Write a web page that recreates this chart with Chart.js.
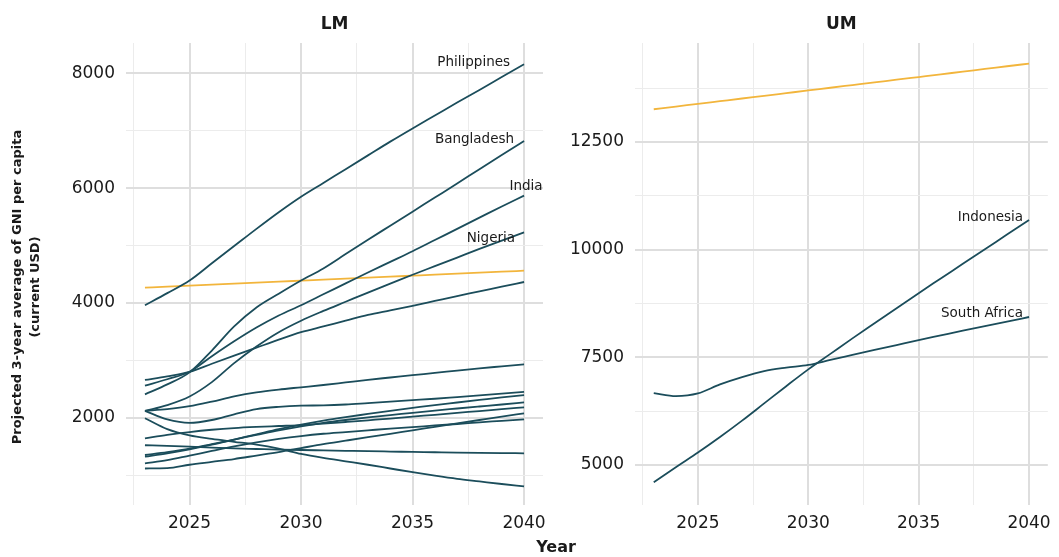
<!DOCTYPE html>
<html>
<head>
<meta charset="utf-8">
<script src="https://cdn.jsdelivr.net/npm/chart.js@4.4.1/dist/chart.umd.min.js"></script>
<style>
  body { margin: 0; background: #fff; }
  #wrap { position: relative; width: 1059px; height: 557px; }
  #lm { position: absolute; left: 0; top: 0; }
  #um { position: absolute; left: 555px; top: 0; }
  #xtitle { position: absolute; left: 506px; width: 100px; top: 537px; text-align: center;
            font: bold 16px 'DejaVu Sans', sans-serif; color: #1a1a1a; }
</style>
</head>
<body>
<div id="wrap">
  <canvas id="lm" width="555" height="557"></canvas>
  <canvas id="um" width="504" height="557"></canvas>
  <div id="xtitle">Year</div>
</div>
<script>
// Data
const years = [2023, 2024, 2025, 2026, 2027, 2028, 2029, 2030, 2031, 2032, 2033, 2034, 2035, 2036, 2037, 2038, 2039, 2040];
const xGridYears = [2022.5, 2025, 2027.5, 2030, 2032.5, 2035, 2037.5, 2040];
const lmTicks = [1000, 2000, 3000, 4000, 5000, 6000, 7000, 8000];
const umTicks = [5000, 6250, 7500, 8750, 10000, 11250, 12500, 13750];

// LM panel
const lmThreshold = [4265, 4282, 4300, 4317, 4335, 4352, 4370, 4387, 4404, 4422, 4439, 4457, 4474, 4491, 4509, 4526, 4544, 4561];
const philippines = [3960, 4170, 4390, 4690, 4990, 5290, 5580, 5850, 6090, 6330, 6570, 6810, 7040, 7265, 7490, 7710, 7935, 8157];
const bangladesh = [2407, 2580, 2790, 3170, 3590, 3920, 4160, 4390, 4600, 4850, 5100, 5345, 5590, 5835, 6080, 6330, 6575, 6820];
const india = [2558, 2670, 2800, 3070, 3330, 3570, 3780, 3960, 4150, 4340, 4530, 4715, 4900, 5095, 5290, 5485, 5680, 5868];
const nigeria = [2117, 2220, 2370, 2620, 2950, 3240, 3490, 3690, 3860, 4020, 4180, 4335, 4490, 4640, 4790, 4940, 5085, 5230];
const lmOther1 = [2657, 2720, 2800, 2940, 3080, 3220, 3360, 3490, 3590, 3690, 3790, 3870, 3950, 4035, 4120, 4200, 4285, 4364];
const lmOther2 = [2120, 2150, 2200, 2280, 2370, 2440, 2490, 2530, 2570, 2615, 2660, 2700, 2740, 2780, 2820, 2860, 2895, 2930];
const lmOther3 = [2120, 1970, 1910, 1960, 2060, 2150, 2190, 2210, 2215, 2230, 2255, 2280, 2305, 2330, 2360, 2390, 2420, 2450];
const lmOther4 = [1990, 1800, 1690, 1630, 1580, 1530, 1460, 1370, 1300, 1240, 1180, 1115, 1050, 990, 935, 890, 845, 805];
const lmOther5 = [1520, 1510, 1495, 1480, 1465, 1455, 1445, 1437, 1430, 1423, 1416, 1410, 1404, 1398, 1392, 1387, 1383, 1380];
const lmOther6 = [1640, 1700, 1750, 1790, 1820, 1840, 1855, 1870, 1895, 1925, 1955, 1985, 2020, 2050, 2085, 2115, 2150, 2181];
const lmOther7 = [1115, 1120, 1180, 1230, 1280, 1340, 1400, 1470, 1540, 1600, 1660, 1720, 1780, 1840, 1900, 1960, 2020, 2077];
const lmOther8 = [1350, 1400, 1460, 1540, 1620, 1700, 1780, 1850, 1910, 1960, 2005, 2045, 2085, 2125, 2160, 2195, 2230, 2268];
const lmOther9 = [1321, 1380, 1450, 1530, 1620, 1710, 1800, 1880, 1950, 2010, 2065, 2120, 2170, 2220, 2265, 2310, 2355, 2395];
const lmOther10 = [1205, 1260, 1340, 1420, 1500, 1570, 1630, 1680, 1720, 1750, 1780, 1810, 1835, 1865, 1890, 1920, 1945, 1972];

// UM panel
const umThreshold = [13260, 13322, 13385, 13447, 13509, 13572, 13634, 13696, 13759, 13821, 13883, 13946, 14008, 14070, 14133, 14195, 14258, 14320];
const indonesia = [4600, 4950, 5290, 5650, 6030, 6430, 6830, 7220, 7580, 7940, 8290, 8640, 8990, 9330, 9670, 10010, 10350, 10690];
const southAfrica = [6670, 6600, 6660, 6870, 7040, 7180, 7260, 7322, 7440, 7555, 7670, 7785, 7900, 8010, 8120, 8225, 8330, 8436];

const TEAL = '#1b4d5b';
const GOLD = '#f2b53c';
const FONT = "'DejaVu Sans', sans-serif";

// where each line label sits relative to the line's last point
const labelOffsets = {
    'Philippines': { dx: -14, dy: -2, align: 'right' },
    'Bangladesh': { dx: -10, dy: -2, align: 'right' },
    'India': { dx: 2, dy: -9, align: 'center' },
    'Nigeria': { dx: -9, dy: 6, align: 'right' },
    'Indonesia': { dx: -6, dy: -2, align: 'right' },
    'South Africa': { dx: -6, dy: -4, align: 'right' }
};

function series(label, values, color) {
    return {
        label,
        data: years.map((y, i) => ({ x: y, y: values[i] })),
        borderColor: color,
        borderWidth: 1.8,
        pointRadius: 0,
        cubicInterpolationMode: 'monotone',
        fill: false,
        order: color === GOLD ? 1 : 0
    };
}

const annotate = {
    id: 'annotate',
    afterDatasetsDraw(chart, args, opts) {
        const { ctx, chartArea, scales } = chart;
        ctx.save();
        ctx.fillStyle = '#1a1a1a';
        ctx.textBaseline = 'middle';
        ctx.textAlign = 'center';
        ctx.font = 'bold 17px ' + FONT;
        ctx.fillText(opts.panel, (chartArea.left + chartArea.right) / 2, 25);
        ctx.font = '13.5px ' + FONT;
        chart.data.datasets.forEach(ds => {
            const off = labelOffsets[ds.label];
            if (!off) return;
            const last = ds.data[ds.data.length - 1];
            const px = scales.x.getPixelForValue(last.x);
            const py = scales.y.getPixelForValue(last.y);
            ctx.textAlign = off.align;
            ctx.fillText(ds.label, px + off.dx, py + off.dy);
        });
        if (opts.yTitle) {
            ctx.translate(0, 287);
            ctx.rotate(-Math.PI / 2);
            ctx.textAlign = 'center';
            ctx.font = 'bold 13px ' + FONT;
            ctx.fillText(opts.yTitle[0], 0, 18);
            ctx.fillText(opts.yTitle[1], 0, 36);
        }
        ctx.restore();
    }
};

function gridStyle(isMajor) {
    return {
        drawTicks: false,
        color: ctx => (ctx.tick && isMajor(ctx.tick.value)) ? '#dedede' : '#ececec',
        lineWidth: ctx => (ctx.tick && isMajor(ctx.tick.value)) ? 2 : 1
    };
}

function makeChart(id, datasets, yMin, yMax, yTicks, yMajor, yAxisWidth, padRight, panel, yTitle) {
    return new Chart(document.getElementById(id), {
        type: 'line',
        data: { datasets },
        options: {
            responsive: false,
            animation: false,
            events: [],
            layout: { padding: { top: 43, right: padRight, bottom: 0, left: 0 } },
            plugins: {
                legend: { display: false },
                tooltip: { enabled: false },
                annotate: { panel, yTitle }
            },
            scales: {
                x: {
                    type: 'linear',
                    min: 2022.15,
                    max: 2040.85,
                    afterBuildTicks: s => { s.ticks = xGridYears.map(v => ({ value: v })); },
                    afterFit: s => { s.height = 52; },
                    border: { display: false },
                    grid: gridStyle(v => v % 5 === 0),
                    ticks: {
                        autoSkip: false,
                        maxRotation: 0,
                        padding: 8,
                        color: '#1a1a1a',
                        font: { family: FONT, size: 17 },
                        callback: v => (v % 5 === 0 ? String(v) : '')
                    }
                },
                y: {
                    min: yMin,
                    max: yMax,
                    afterBuildTicks: s => { s.ticks = yTicks.map(v => ({ value: v })); },
                    afterFit: s => { s.width = yAxisWidth; },
                    border: { display: false },
                    grid: gridStyle(yMajor),
                    ticks: {
                        autoSkip: false,
                        padding: 11,
                        color: '#1a1a1a',
                        font: { family: FONT, size: 17 },
                        callback: v => (yMajor(v) ? String(v) : '')
                    }
                }
            }
        },
        plugins: [annotate]
    });
}

const lmData = [
    series('LM threshold', lmThreshold, GOLD),
    series('Philippines', philippines, TEAL),
    series('Bangladesh', bangladesh, TEAL),
    series('India', india, TEAL),
    series('Nigeria', nigeria, TEAL),
    series('lmOther1', lmOther1, TEAL),
    series('lmOther2', lmOther2, TEAL),
    series('lmOther3', lmOther3, TEAL),
    series('lmOther4', lmOther4, TEAL),
    series('lmOther5', lmOther5, TEAL),
    series('lmOther6', lmOther6, TEAL),
    series('lmOther7', lmOther7, TEAL),
    series('lmOther8', lmOther8, TEAL),
    series('lmOther9', lmOther9, TEAL),
    series('lmOther10', lmOther10, TEAL)
];

const umData = [
    series('UM threshold', umThreshold, GOLD),
    series('Indonesia', indonesia, TEAL),
    series('South Africa', southAfrica, TEAL)
];

makeChart('lm', lmData, 479, 8528, lmTicks, v => v % 2000 === 0, 126, 12, 'LM',
    ['Projected 3-year average of GNI per capita', '(current USD)']);
makeChart('um', umData, 4071, 14798, umTicks, v => v % 2500 === 0, 80, 7, 'UM', null);
</script>
</body>
</html>
